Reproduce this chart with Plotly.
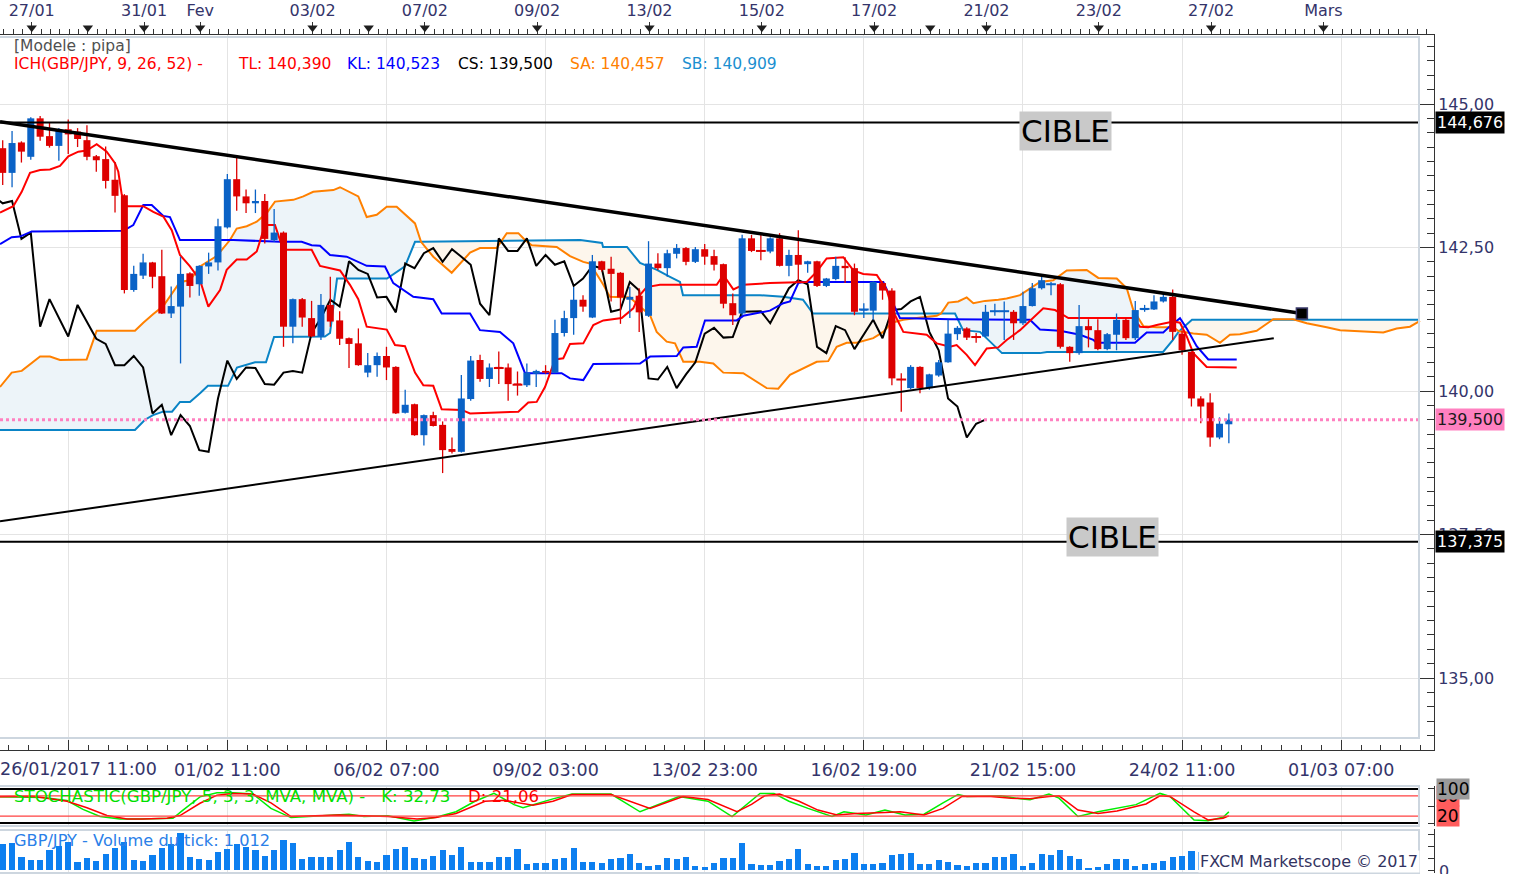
"""
GBP/JPY 4h chart in Marketscope style: candles, Ichimoku, trend lines,
stochastic panel and tick volume panel.
"""

import plotly.graph_objects as go

W, H = 1516, 874
FONT = "DejaVu Sans"
NAVY = "#34346a"
UP, DOWN = "#0a62c6", "#dd0000"
GRID = "#e4e4e4"
FRAME = "#cdd6df"

# ---- candles (index 0 = first visible 4h candle) ----
opens = [144.23, 143.80, 144.33, 144.08, 144.75, 144.44, 144.27, 144.56, 144.52, 144.37,
         144.09, 144.04, 143.68, 143.41, 141.76, 142.01, 142.24, 142.00, 141.35, 141.47,
         142.05, 141.86, 142.17, 142.24, 142.85, 143.69, 143.39, 143.27, 143.31, 142.63,
         142.76, 141.12, 141.60, 141.27, 140.95, 141.50, 141.23, 140.92, 140.83, 140.32,
         140.45, 140.61, 140.42, 139.62, 139.77, 139.23, 139.58, 139.41, 138.99, 138.94,
         139.86, 140.54, 140.21, 140.42, 140.41, 140.13, 140.10, 140.30, 140.35, 140.32,
         141.01, 141.27, 141.59, 141.28, 142.26, 142.13, 142.06, 141.59, 141.66, 141.31,
         142.22, 142.14, 142.39, 142.49, 142.25, 142.47, 142.35, 142.21, 141.53, 141.35,
         142.66, 142.45, 142.43, 142.66, 142.18, 142.37, 142.21, 142.26, 141.83, 141.95,
         142.18, 142.14, 141.40, 141.40, 141.88, 141.75, 140.21, 140.05, 140.42, 140.05,
         140.27, 140.50, 140.99, 141.09, 140.95, 140.95, 141.38, 141.38, 141.38, 141.18,
         141.48, 141.79, 141.85, 141.86, 140.77, 140.66, 141.13, 141.06, 140.73, 140.98,
         141.24, 140.92, 141.41, 141.42, 141.56, 141.64, 141.00, 140.68, 139.87, 139.80,
         139.19, 139.42]
highs = [144.37, 144.53, 144.35, 144.77, 144.79, 144.67, 144.58, 144.73, 144.58, 144.63,
         144.11, 144.26, 143.99, 143.43, 142.18, 142.39, 142.25, 142.46, 141.82, 142.34,
         142.07, 142.19, 142.41, 143.00, 143.78, 144.11, 143.51, 143.51, 143.43, 143.17,
         142.78, 141.61, 141.62, 141.57, 141.69, 141.99, 141.39, 140.93, 141.09, 140.66,
         140.67, 140.77, 140.43, 140.02, 139.78, 139.59, 139.64, 139.47, 139.19, 140.28,
         140.61, 140.63, 140.48, 140.69, 140.48, 140.34, 140.48, 140.37, 140.45, 141.24,
         141.40, 141.81, 141.67, 142.37, 142.27, 142.34, 142.07, 141.81, 141.79, 142.61,
         142.40, 142.46, 142.56, 142.51, 142.51, 142.56, 142.46, 142.22, 141.70, 142.72,
         142.72, 142.72, 142.68, 142.75, 142.46, 142.80, 142.27, 142.27, 141.97, 142.34,
         142.33, 142.22, 141.53, 141.91, 141.91, 141.79, 140.31, 140.45, 140.43, 140.30,
         140.54, 141.24, 141.13, 141.11, 141.01, 141.50, 141.52, 141.56, 141.41, 141.73,
         141.88, 141.99, 141.90, 141.88, 140.78, 141.50, 141.25, 141.25, 141.01, 141.35,
         141.27, 141.57, 141.50, 141.67, 141.69, 141.77, 141.06, 140.69, 139.91, 139.96,
         139.54, 139.61]
lows = [143.59, 143.55, 143.98, 144.03, 144.36, 144.24, 144.01, 144.13, 144.25, 144.02,
        143.82, 143.53, 143.11, 141.70, 141.73, 141.95, 141.79, 141.34, 141.27, 140.48,
        141.63, 141.66, 142.04, 142.10, 142.83, 143.14, 143.10, 143.10, 142.57, 142.60,
        140.77, 140.83, 141.12, 140.94, 140.89, 141.12, 140.80, 140.40, 140.44, 140.24,
        140.25, 140.19, 139.60, 139.61, 139.22, 139.05, 139.38, 138.57, 138.91, 138.93,
        139.83, 140.16, 140.07, 140.12, 139.83, 139.92, 140.07, 140.07, 140.30, 140.31,
        140.95, 140.98, 141.38, 141.27, 142.08, 141.56, 141.17, 141.27, 141.03, 141.29,
        142.11, 141.99, 142.31, 142.19, 142.23, 142.20, 142.10, 141.44, 141.15, 141.32,
        142.42, 142.28, 142.40, 142.17, 142.00, 141.89, 142.06, 141.81, 141.81, 141.93,
        141.88, 141.32, 141.27, 141.24, 141.59, 140.10, 139.64, 140.03, 139.96, 140.02,
        140.25, 140.49, 140.89, 140.89, 140.84, 140.94, 141.31, 140.89, 140.89, 141.15,
        141.47, 141.77, 141.67, 140.74, 140.51, 140.63, 140.76, 140.71, 140.71, 140.71,
        140.89, 140.89, 141.38, 141.41, 141.54, 140.89, 140.63, 139.73, 139.44, 139.03,
        139.16, 139.09]
closes = [143.80, 144.32, 144.17, 144.75, 144.43, 144.27, 144.55, 144.47, 144.39, 144.08,
          144.02, 143.66, 143.40, 141.76, 142.04, 142.24, 141.99, 141.35, 141.48, 142.04,
          141.83, 142.18, 142.24, 142.87, 143.69, 143.39, 143.27, 143.31, 142.65, 142.76,
          141.12, 141.60, 141.28, 140.95, 141.50, 141.21, 140.91, 140.82, 140.45, 140.45,
          140.61, 140.41, 139.61, 139.76, 139.23, 139.58, 139.39, 138.97, 138.94, 139.87,
          140.53, 140.21, 140.41, 140.40, 140.12, 140.11, 140.32, 140.35, 140.32, 141.01,
          141.27, 141.59, 141.47, 142.26, 142.11, 142.04, 141.63, 141.64, 141.37, 142.22,
          142.14, 142.40, 142.49, 142.25, 142.47, 142.34, 142.20, 141.52, 141.32, 142.66,
          142.44, 142.44, 142.66, 142.18, 142.37, 142.20, 142.26, 141.83, 141.96, 142.18,
          142.14, 141.38, 141.42, 141.90, 141.75, 140.22, 140.20, 140.42, 140.05, 140.29,
          140.50, 141.00, 141.10, 140.93, 140.94, 141.38, 141.39, 141.39, 141.18, 141.48,
          141.79, 141.93, 141.86, 140.77, 140.66, 141.13, 141.06, 140.73, 140.99, 141.24,
          140.92, 141.41, 141.43, 141.56, 141.64, 141.03, 140.71, 139.87, 139.73, 139.19,
          139.43, 139.50]
volumes = [2220, 2280, 1140, 855, 855, 1710, 2050, 2370, 660, 1050,
           770, 1370, 1910, 2420, 855, 770, 1280, 1910, 2220, 3140,
           1140, 940, 855, 1510, 1800, 2220, 1990, 1710,
           1200, 1710, 2570, 2330, 910, 1090, 1140, 1140, 1710, 2420,
           1140, 770, 660, 1280, 1770, 1990, 1000, 910, 1200, 1710,
           1280, 1990, 710, 710, 710, 1090, 1090, 1770, 510, 570,
           620, 910, 1000, 1910, 660, 710, 570, 940, 1000, 1370,
           620, 370, 430, 1000, 910, 1090, 340, 230, 620, 1000,
           1000, 2280, 510,
           430, 430, 800, 940, 1800, 510, 340, 340, 860, 940,
           1430, 510, 510, 570, 1280, 1370, 1430, 490, 490, 860,
           710, 430, 340, 570, 570, 1090, 1090, 1340, 370, 570,
           1340, 1280, 1710, 1220, 940, 150, 280, 510, 940, 940,
           370, 510, 570, 800, 1090, 1200, 1620,
           1500, 1300, 1200, 1012]
candle_idx = list(range(len(closes)))
chikou_shift = 26

# ---- Ichimoku lines (vertices: candle index, price) ----
tenkan_x = [-0.29, 1.13, 2.03, 2.92, 3.99, 5.05, 6.12, 7.01, 8.08, 8.97,
            10.04, 11.11, 12.0, 12.35, 12.71, 13.25, 15.02, 16.09, 17.16, 18.06,
            18.94, 20.01, 21.08, 21.97, 23.22, 23.93, 25.0, 26.07, 27.14, 27.49,
            28.02, 29.09, 29.98, 33.01, 33.9, 36.04, 37.1, 37.99, 38.89, 41.03,
            41.91, 42.98, 44.05, 44.94, 46.0, 46.9, 49.04, 49.93, 55.09, 56.15,
            57.05, 57.94, 59.01, 59.89, 60.61, 62.03, 63.1, 64.17, 66.13, 67.37,
            67.91, 68.8, 70.22, 76.28, 76.99, 78.06, 79.12, 81.97, 84.83, 85.9,
            86.97, 88.03, 89.81, 90.88, 91.94, 93.38, 94.44, 95.15, 96.22, 98.72,
            99.79, 101.21, 101.92, 102.99, 103.88, 105.13, 106.37, 107.26, 108.69, 109.94,
            111.17, 112.43, 113.85, 120.79, 121.5, 122.39, 123.29, 125.06, 125.78, 126.5,
            127.2, 128.63, 131.84]
tenkan_y = [143.11, 143.22, 143.47, 143.80, 143.85, 143.86, 143.92, 144.09, 144.17, 144.19,
            144.30, 144.17, 143.97, 143.82, 143.43, 143.22, 143.22, 143.12, 143.04, 142.80,
            142.37, 142.17, 141.93, 141.47, 141.76, 142.11, 142.29, 142.29, 142.43, 142.63,
            142.89, 142.89, 142.46, 142.46, 142.18, 142.10, 141.85, 141.60, 141.12, 141.07,
            140.80, 140.78, 140.32, 140.10, 140.09, 139.68, 139.67, 139.61, 139.64, 139.80,
            139.81, 140.07, 140.55, 140.57, 140.82, 140.83, 141.15, 141.23, 141.27, 141.44,
            141.64, 141.81, 141.85, 141.85, 142.02, 141.77, 141.85, 141.88, 141.90, 141.90,
            142.08, 142.31, 142.33, 142.10, 142.04, 142.02, 141.76, 141.38, 141.03, 140.98,
            140.83, 140.77, 140.80, 140.63, 140.45, 140.74, 140.76, 140.89, 141.06, 141.25,
            141.44, 141.41, 141.27, 141.27, 141.12, 141.11, 141.15, 141.21, 141.19, 140.95,
            140.66, 140.42, 140.41]
kijun_x = [-0.29, 0.96, 1.85, 3.1, 12.88, 13.95, 15.02, 15.92, 17.16, 17.87,
           18.94, 24.64, 29.63, 31.94, 33.01, 33.9, 34.97, 36.75, 38.89, 40.84,
           41.73, 43.87, 46.0, 46.9, 49.93, 50.99, 53.13, 54.55, 55.8, 59.72,
           60.61, 62.03, 63.1, 68.09, 69.16, 72.01, 72.71, 74.14, 75.03, 78.42,
           79.12, 80.56, 81.97, 83.4, 84.11, 85.0, 85.53, 94.08, 94.98, 95.86,
           101.21, 109.75, 110.82, 112.96, 115.1, 116.52, 116.88, 120.97, 122.22, 123.99,
           124.71, 125.78, 126.5, 127.56, 128.8, 131.84]
kijun_y = [142.56, 142.68, 142.69, 142.78, 142.79, 142.89, 143.24, 143.24, 143.05, 143.03,
           142.63, 142.63, 142.60, 142.60, 142.54, 142.53, 142.37, 142.34, 142.18, 142.17,
           141.88, 141.64, 141.60, 141.35, 141.35, 141.06, 141.03, 140.83, 140.31, 140.31,
           140.22, 140.19, 140.47, 140.48, 140.60, 140.61, 140.76, 140.77, 141.23, 141.23,
           141.31, 141.35, 141.40, 141.53, 141.56, 141.88, 141.90, 141.90, 141.59, 141.27,
           141.25, 141.24, 141.07, 141.05, 140.98, 140.89, 140.84, 140.84, 141.02, 141.02,
           141.13, 141.27, 141.09, 140.78, 140.55, 140.55]
span_a_x = [-0.29, 0.96, 2.03, 3.99, 5.05, 6.12, 8.97, 10.04, 14.13, 15.02,
            16.09, 17.16, 18.94, 20.01, 21.08, 22.86, 24.28, 25.0, 26.07, 27.14,
            28.21, 29.09, 31.05, 32.12, 33.18, 35.32, 36.04, 37.99, 38.89, 39.96,
            41.03, 42.09, 44.05, 44.69, 46.0, 47.97, 49.93, 50.99, 52.78, 53.85,
            55.09, 55.8, 56.52, 59.19, 60.61, 62.03, 62.75, 64.17, 64.88, 67.02,
            68.09, 69.16, 69.87, 70.94, 71.83, 72.71, 74.5, 75.92, 76.99, 79.12,
            81.62, 82.86, 84.11, 85.53, 86.97, 88.2, 89.1, 90.17, 91.24, 93.01,
            94.08, 94.98, 96.22, 97.65, 99.79, 100.25, 101.03, 102.09, 102.99, 103.7,
            104.95, 106.37, 107.26, 108.69, 109.4, 110.82, 112.24, 113.68, 115.81, 117.05,
            119.02, 120.09, 120.79, 121.86, 123.29, 125.06, 125.67, 127.2, 128.63, 130.05,
            131.12, 132.19, 133.97, 135.75, 137.88, 139.32, 141.45, 142.88, 147.5, 148.93,
            150.35, 151.42]
span_a_y = [140.07, 140.32, 140.35, 140.60, 140.60, 140.54, 140.55, 141.05, 141.05, 141.19,
            141.34, 141.48, 141.90, 141.93, 142.17, 142.35, 142.63, 142.83, 142.87, 142.95,
            143.10, 143.30, 143.33, 143.39, 143.47, 143.50, 143.55, 143.39, 143.03, 143.07,
            143.21, 143.21, 142.92, 142.60, 142.34, 142.06, 142.41, 142.49, 142.49, 142.75,
            142.75, 142.63, 142.54, 142.51, 142.35, 142.25, 142.22, 141.85, 141.64, 141.63,
            141.47, 141.32, 141.03, 140.86, 140.83, 140.51, 140.51, 140.48, 140.32, 140.31,
            140.05, 140.04, 140.28, 140.40, 140.51, 140.52, 140.77, 140.84, 140.84, 140.92,
            141.03, 141.19, 141.24, 141.27, 141.31, 141.35, 141.54, 141.56, 141.63, 141.53,
            141.57, 141.59, 141.61, 141.67, 141.75, 141.90, 141.93, 142.10, 142.11, 141.97,
            141.96, 141.79, 141.41, 141.13, 141.11, 141.11, 141.04, 141.00, 140.98, 140.84,
            140.98, 140.99, 141.05, 141.25, 141.25, 141.18, 141.11, 141.06, 141.02, 141.09,
            141.12, 141.22]
span_b_x = [-0.29, 14.13, 15.2, 16.06, 17.13, 18.09, 18.94, 20.01, 21.08, 21.93,
            24.07, 25.03, 26.96, 28.13, 28.99, 34.43, 34.97, 35.72, 41.06, 42.98,
            44.05, 44.69, 61.7, 64.03, 64.14, 66.7, 68.09, 69.9, 71.29, 72.36,
            72.68, 80.91, 83.37, 85.5, 86.57, 100.25, 101.74, 102.6, 104.41, 106.76,
            110.82, 111.57, 123.97, 125.03, 125.67, 127.06, 151.31]
span_b_y = [139.32, 139.32, 139.50, 139.58, 139.64, 139.64, 139.81, 139.81, 139.96, 140.09,
            140.09, 140.41, 140.50, 140.50, 140.94, 140.95, 141.01, 141.96, 141.96, 142.17,
            142.60, 142.60, 142.63, 142.58, 142.51, 142.51, 142.23, 142.11, 141.99, 141.90,
            141.67, 141.67, 141.64, 141.59, 141.35, 141.35, 141.35, 141.06, 141.03, 140.66,
            140.66, 140.68, 140.68, 140.89, 141.04, 141.24, 141.24]
# where span A and span B cross (cloud colour changes there)
cloud_cuts = [-0.29, 44.69, 100.25, 125.67, 151.5]
cloud_colours = ["#edf4f9", "#fdf6ec", "#edf4f9", "#fdf6ec"]

# ---- drawn objects ----
trend_hi_x = [-0.29, 138.8]
trend_hi_y = [144.69, 141.35]
trend_lo_x = [-0.29, 135.8]
trend_lo_y = [137.73, 140.92]
target_levels = [144.676, 137.375]

# ---- stochastic (5,3,3) ----
stoch_k_x = [-0.29, 4.31, 6.87, 8.58, 10.4, 12.53, 14.67, 16.81, 18.19, 19.26,
             21.08, 22.9, 24.6, 26.74, 28.66, 30.8, 33.37, 35.93, 37.0, 38.6,
             41.17, 43.94, 46.29, 48.43, 50.46, 52.49, 54.63, 55.59, 58.79, 60.82,
             64.99, 68.09, 70.12, 72.25, 75.35, 77.92, 80.91, 82.4, 84.0, 86.04,
             88.6, 89.88, 92.23, 94.26, 96.4, 98.43, 100.46, 102.06, 103.02, 106.65,
             108.69, 109.75, 111.78, 112.85, 114.88, 117.02, 121.08, 122.15, 123.64, 124.71,
             127.28, 128.77, 130.38, 131.0]
stoch_k = [77, 75, 66, 40, 19, 12, 12, 12, 14, 38,
           77, 89, 89, 85, 43, 16, 21, 26, 26, 19,
           21, 6, 17, 33, 64, 87, 54, 45, 71, 85,
           85, 33, 56, 78, 64, 19, 87, 87, 64, 43,
           19, 33, 23.5, 38, 23.5, 26, 59, 84, 78, 80,
           71, 68.6, 85, 73, 19, 33, 54, 68.6, 87, 78,
           9, 7, 17, 32.73]
stoch_d_x = [-0.29, 3.24, 6.87, 9.0, 11.14, 13.28, 14.99, 17.55, 18.94, 21.08,
             22.9, 24.6, 26.74, 28.66, 30.8, 33.37, 35.93, 38.6, 41.17, 44.26,
             46.29, 48.43, 51.53, 53.56, 56.65, 58.79, 60.82, 64.99, 69.16, 72.68,
             75.35, 78.45, 80.0, 81.4, 83.0, 85.07, 87.1, 89.14, 91.17, 94.26,
             95.87, 98.43, 100.46, 102.49, 105.59, 107.72, 109.75, 111.78, 112.85, 114.88,
             117.02, 119.05, 122.15, 123.64, 124.71, 127.28, 128.77, 130.38, 131.0]
stoch_d = [77, 79, 64, 45, 22, 12, 12, 14, 22, 58,
           82, 87, 85, 59, 19, 21, 23.5, 21, 19, 12,
           16, 28, 64, 67, 52, 64, 84, 84, 43, 78,
           69, 33, 55, 80, 85, 64, 38, 23.5, 28, 31,
           33, 23.5, 43, 78, 78, 73, 71, 78, 80, 38,
           28, 35, 56, 80, 78, 33, 9, 14, 21.06]
stoch_levels = [100, 80, 20, 0]

# ---- time axis labels ----
top_days = [0, 2, 3, 5, 7, 9, 11, 13, 15, 17, 19, 21, 23]
top_labels = ["27/01", "31/01", "Fev", "03/02", "07/02", "09/02", "13/02",
              "15/02", "17/02", "21/02", "23/02", "27/02", "Mars"]
marker_days = [0, 1, 2, 3, 5, 6, 7, 9, 11, 13, 15, 16, 17, 19, 21, 23]
bottom_idx = [7, 24, 41, 58, 75, 92, 109, 126, 143]
bottom_labels = ["26/01/2017 11:00", "01/02 11:00", "06/02 07:00", "09/02 03:00",
                 "13/02 23:00", "16/02 19:00", "21/02 15:00", "24/02 11:00", "01/03 07:00"]
price_ticks = [135, 137.5, 140, 142.5, 145]
price_tick_text = ["135,00", "137,50", "140,00", "142,50", "145,00"]
volume_ticks = [0, 1000, 2000, 3000]

# ---- geometry (pixels of the 1516x874 picture) ----
PX_PER_CANDLE = 9.36
FIRST_CANDLE_PX = 2.7
DAY0 = 3.1          # candle index where 27/01 starts
PER_DAY = 6
AXIS_PX = 1434      # right price axis
BOX_PX = 1419       # right edge of the panel frames


def fx(px):
    return px / W


def fy(py):
    return 1 - py / H


def cand(px):
    return (px - FIRST_CANDLE_PX) / PX_PER_CANDLE


X_RANGE = [cand(0), cand(AXIS_PX)]
PRICE_PER_PX = 1 / 57.4
Y_RANGE = [140 - (750 - 391) * PRICE_PER_PX, 140 + (391 - 35) * PRICE_PER_PX]


def cloud_part(lo, hi):
    a = [(x, y) for x, y in zip(span_a_x, span_a_y) if lo <= x <= hi]
    b = [(x, y) for x, y in zip(span_b_x, span_b_y) if lo <= x <= hi]
    pts = a + b[::-1]
    return [p[0] for p in pts], [p[1] for p in pts]


def candle_paths(rising, body):
    """Segments for wicks (low-high) or bodies (open-close) of one colour."""
    xs, ys = [], []
    for i, o, hi, lo, c in zip(candle_idx, opens, highs, lows, closes):
        if (c >= o) == rising:
            xs += [i, i, None]
            ys += ([o, c] if body else [lo, hi]) + [None]
    return xs, ys


fig = go.Figure()

for lo, hi, colour in zip(cloud_cuts[:-1], cloud_cuts[1:], cloud_colours):
    cx, cy = cloud_part(lo, hi)
    fig.add_trace(go.Scatter(x=cx, y=cy, mode="lines", fill="toself", fillcolor=colour,
                             line=dict(width=0), hoverinfo="skip"))

fig.add_trace(go.Scatter(x=span_b_x, y=span_b_y, mode="lines",
                         line=dict(color="#0a84c6", width=2)))
fig.add_trace(go.Scatter(x=span_a_x, y=span_a_y, mode="lines",
                         line=dict(color="#ff8000", width=2)))
fig.add_trace(go.Scatter(x=[i - chikou_shift for i in candle_idx], y=closes, mode="lines",
                         line=dict(color="#000000", width=2)))
fig.add_trace(go.Scatter(x=kijun_x, y=kijun_y, mode="lines",
                         line=dict(color="#0000ff", width=2)))
fig.add_trace(go.Scatter(x=tenkan_x, y=tenkan_y, mode="lines",
                         line=dict(color="#ff0000", width=2)))

# candles: thin wick paths + thick body paths (kept as scatter so the cloud fill
# does not hide them)
for rising, colour in [(True, UP), (False, DOWN)]:
    wx, wy = candle_paths(rising, body=False)
    fig.add_trace(go.Scatter(x=wx, y=wy, mode="lines", line=dict(color=colour, width=1.3)))
    bx, by = candle_paths(rising, body=True)
    fig.add_trace(go.Scatter(x=bx, y=by, mode="lines", line=dict(color=colour, width=7)))
    # dojis still need a visible bar
    fig.add_trace(go.Scatter(x=[i for i, o, c in zip(candle_idx, opens, closes)
                                if (c >= o) == rising and abs(c - o) < 0.03],
                             y=[c for o, c in zip(opens, closes)
                                if (c >= o) == rising and abs(c - o) < 0.03],
                             mode="markers",
                             marker=dict(symbol="line-ew", size=7,
                                         line=dict(color=colour, width=2))))

fig.add_trace(go.Scatter(x=trend_hi_x, y=trend_hi_y, mode="lines",
                         line=dict(color="#000000", width=3.5)))
fig.add_trace(go.Scatter(x=trend_lo_x, y=trend_lo_y, mode="lines",
                         line=dict(color="#000000", width=2)))
fig.add_trace(go.Scatter(x=trend_hi_x[-1:], y=trend_hi_y[-1:], mode="markers",
                         marker=dict(symbol="square", size=11, color="#000000",
                                     line=dict(color="#3b3b6b", width=1.5))))

# empty trace so the bottom time axis (overlaying x) gets drawn
fig.add_trace(go.Scatter(x=[], y=[], xaxis="x2", yaxis="y", mode="lines"))

# day markers of the top time scale
fig.add_trace(go.Scatter(x=[DAY0 + PER_DAY * d for d in marker_days], y=[0.45] * len(marker_days),
                         xaxis="x", yaxis="y4", mode="markers",
                         marker=dict(symbol="triangle-down", size=9, color="#1e1e1e")))

# stochastic panel
fig.add_trace(go.Scatter(x=stoch_k_x, y=stoch_k, xaxis="x3", yaxis="y2", mode="lines",
                         line=dict(color="#00ee00", width=1.5)))
fig.add_trace(go.Scatter(x=stoch_d_x, y=stoch_d, xaxis="x3", yaxis="y2", mode="lines",
                         line=dict(color="#ff0000", width=1.5)))

# volume panel
fig.add_trace(go.Bar(x=candle_idx, y=volumes, xaxis="x4", yaxis="y3",
                     marker=dict(color="#0d7ff0", line=dict(width=0)), width=0.66))

# ---- shapes ----
shapes = []
for lv in target_levels:
    shapes.append(dict(type="line", xref="paper", yref="y", x0=0, x1=fx(BOX_PX), y0=lv, y1=lv,
                       line=dict(color="#000000", width=2)))
shapes.append(dict(type="line", xref="paper", yref="y", x0=0, x1=fx(BOX_PX),
                   y0=closes[-1], y1=closes[-1],
                   line=dict(color="#ff80c0", width=3, dash="dot")))
for lv in stoch_levels:
    shapes.append(dict(type="line", xref="paper", yref="y2", x0=0, x1=fx(BOX_PX), y0=lv, y1=lv,
                       line=dict(color="#000000" if lv in (0, 100) else "#ff4040",
                                 width=2 if lv in (0, 100) else 1.2)))
for top, bottom in [(37, 738), (786, 826), (830, 873)]:
    shapes.append(dict(type="rect", xref="paper", yref="paper", x0=-0.01, x1=fx(BOX_PX),
                       y0=fy(bottom), y1=fy(top), line=dict(color=FRAME, width=2)))

# ---- texts ----
annotations = []


def note(text, px, py, size, color, **kw):
    annotations.append(dict(text=text, x=fx(px), y=fy(py), xref="paper", yref="paper",
                            xanchor="left", yanchor="middle", showarrow=False,
                            font=dict(family=FONT, size=size, color=color), **kw))


note("[Modele : pipa]", 12, 46, 15.5, "#505050")
header = [("ICH(GBP/JPY, 9, 26, 52) -", 12, "#ff0000"), ("TL: 140,390", 236, "#ff0000"),
          ("KL: 140,523", 345, "#0000ff"), ("CS: 139,500", 456, "#000000"),
          ("SA: 140,457", 568, "#ff8000"), ("SB: 140,909", 680, "#1a8fd0")]
for text, px, colour in header:
    note(text, px, 64, 15.5, colour)

note("STOCHASTIC(GBP/JPY, 5, 3, 3, MVA, MVA) -   K: 32,73", 12, 796, 16.6, "#00e000")
note("D: 21,06", 466, 796, 16.6, "#ff0000")
note("GBP/JPY - Volume du tick: 1 012", 12, 840, 16.2, "#2a80e8")
note("FXCM Marketscope \u00a9 2017", 1198, 861, 16, "#33335f", bgcolor="#ffffff")

# first time label sits against the left edge (an axis label would be dropped there)
note(bottom_labels[0], -2, 769, 17.5, NAVY)
# volume scale zero, half cut by the bottom edge
note(str(volume_ticks[0]), 1437, 871, 16, NAVY)

for px, py in [(1065, 131), (1112, 537)]:
    annotations.append(dict(text="CIBLE", x=fx(px), y=fy(py),
                            xref="paper", yref="paper", xanchor="center", yanchor="middle",
                            showarrow=False, bgcolor="#c9c9c9", borderpad=1,
                            font=dict(family=FONT, size=31, color="#000000")))

price_boxes = [(target_levels[0], "#000000", "#ffffff"),
               (closes[-1], "#ff80c0", "#1a1a1a"),
               (target_levels[1], "#000000", "#ffffff")]
for lv, bg, fg in price_boxes:
    annotations.append(dict(text=f"{lv:.3f}".replace(".", ","), x=fx(AXIS_PX + 1), y=lv,
                            xref="paper", yref="y", xanchor="left", yanchor="middle",
                            showarrow=False, bgcolor=bg, borderpad=1,
                            font=dict(family=FONT, size=16, color=fg)))

for lv, bg in [(80, "#ff5c5c"), (100, "#9a9a9a"), (20, "#ff5c5c")]:
    annotations.append(dict(text=str(lv), x=fx(AXIS_PX + 2), y=lv, xref="paper", yref="y2",
                            xanchor="left", yanchor="middle", showarrow=False,
                            bgcolor=bg, borderpad=0,
                            font=dict(family=FONT, size=17, color="#000000")))

# ---- axes ----
tick_font = dict(family=FONT, size=16, color=NAVY)
dom_x = [0, fx(AXIS_PX)]
grid_x = dict(domain=dom_x, range=X_RANGE, tickmode="array", tickvals=bottom_idx,
              showticklabels=False, ticks="", showgrid=True, gridcolor=GRID,
              zeroline=False, fixedrange=True)

fig.update_layout(
    width=W, height=H,
    margin=dict(l=0, r=0, t=0, b=0, autoexpand=False),
    paper_bgcolor="#ffffff", plot_bgcolor="#ffffff",
    showlegend=False, hovermode=False, bargap=0,
    xaxis=dict(domain=dom_x, range=X_RANGE, anchor="y", side="top",
               tickmode="array", tickvals=[DAY0 + PER_DAY * d for d in top_days],
               ticktext=top_labels, ticks="outside", ticklen=12, tickcolor="#333333",
               minor=dict(tickmode="linear", tick0=DAY0 % 1, dtick=1, ticks="outside",
                          ticklen=5, tickcolor="#333333", showgrid=False),
               showline=True, linecolor="#333333", linewidth=1, showgrid=False,
               zeroline=False, tickfont=tick_font, fixedrange=True),
    xaxis2=dict(overlaying="x", anchor="y", side="bottom", range=X_RANGE,
                tickmode="array", tickvals=bottom_idx, ticktext=[""] + bottom_labels[1:],
                ticks="inside", ticklen=10, tickcolor="#333333",
                minor=dict(tickmode="linear", tick0=bottom_idx[0], dtick=17 / 8,
                           ticks="inside", ticklen=5, tickcolor="#333333", showgrid=False),
                showline=True, linecolor="#333333", linewidth=1,
                showgrid=True, gridcolor=GRID, zeroline=False, ticklabelstandoff=4,
                tickfont=dict(family=FONT, size=17.5, color=NAVY), fixedrange=True),
    xaxis3=dict(grid_x, anchor="y2"),
    xaxis4=dict(grid_x, anchor="y3"),
    yaxis=dict(domain=[fy(750), fy(35)], range=Y_RANGE, anchor="x", side="right",
               tickmode="array", tickvals=price_ticks, ticktext=price_tick_text,
               ticks="inside", ticklen=14, tickcolor="#333333",
               minor=dict(tickmode="linear", tick0=0, dtick=0.25, ticks="inside",
                          ticklen=7, tickcolor="#333333", showgrid=False),
               showline=True, linecolor="#333333", linewidth=1,
               showgrid=True, gridcolor=GRID, zeroline=False, tickfont=tick_font,
               fixedrange=True),
    yaxis2=dict(domain=[fy(826), fy(786)], range=[-8.8, 108.8], anchor="x3", side="right",
                tickmode="array", tickvals=[0, 50, 100], showticklabels=False,
                ticks="inside", ticklen=6, tickcolor="#333333",
                showline=True, linecolor="#333333", showgrid=False, zeroline=False,
                fixedrange=True),
    yaxis3=dict(domain=[fy(873), fy(829)], range=[-256, 3504], anchor="x4", side="right",
                tickmode="array", tickvals=volume_ticks, showticklabels=False,
                ticks="inside", ticklen=6, tickcolor="#333333",
                showline=True, linecolor="#333333", showgrid=False, zeroline=False,
                fixedrange=True),
    yaxis4=dict(domain=[fy(35), fy(19)], range=[0, 1], anchor="x", visible=False,
                fixedrange=True),
    shapes=shapes,
    annotations=annotations,
)

# the page body has an 8px default margin; drop it so the chart sits at 0,0
fig.write_html("out.html", config={"displayModeBar": False},
               post_script="document.body.style.margin='0';document.body.style.overflow='hidden';")
